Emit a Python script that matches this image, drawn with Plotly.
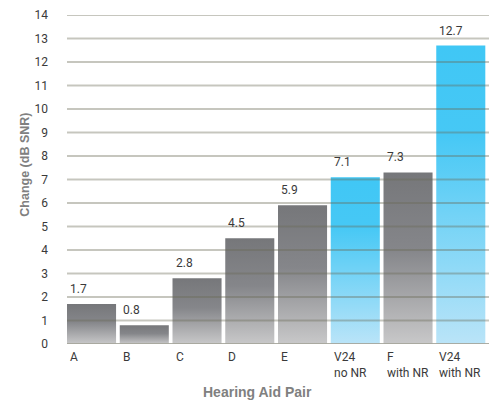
import plotly.graph_objects as go

# Speech-in-noise benefit per hearing aid pair
categories = ["A", "B", "C", "D", "E", "V24<br>no NR", "F<br>with NR", "V24<br>with NR"]
values = [1.7, 0.8, 2.8, 4.5, 5.9, 7.1, 7.3, 12.7]
is_v24 = [False, False, False, False, False, True, False, True]
y_ticks = list(range(0, 15))

GRAY_SCALE = [[0.0, "#c8c8c9"], [0.55, "#85868a"], [1.0, "#76777a"]]
BLUE_SCALE = [[0.0, "#bae4f8"], [0.7, "#46c8f5"], [1.0, "#40c7f5"]]

BAR_W = 0.93
FONT = "Roboto"
TITLE_FONT = "Liberation Sans"

fig = go.Figure()

for i, (cat, v, hl) in enumerate(zip(categories, values, is_v24)):
    left = i - 0.5
    right = left + BAR_W
    fig.add_trace(go.Scatter(
        x=[left, right, right, left, left],
        y=[0, 0, v, v, 0],
        mode="lines",
        line=dict(width=0),
        fill="toself",
        fillgradient=dict(type="vertical", colorscale=BLUE_SCALE if hl else GRAY_SCALE),
        hoverinfo="skip",
        showlegend=False,
    ))
    # value label above each bar
    fig.add_annotation(
        x=left, y=v, xref="x", yref="y", text=f"{v:.1f}",
        xanchor="left", yanchor="bottom", xshift=1, yshift=6,
        showarrow=False, font=dict(family=FONT, size=12, color="#3a3a3a"),
    )
    # category label under each bar
    fig.add_annotation(
        x=left, y=0, xref="x", yref="paper", text=cat, align="left",
        xanchor="left", yanchor="top", xshift=1, yshift=-4,
        showarrow=False, font=dict(family=FONT, size=12, color="#3a3a3a"),
    )

# gridlines drawn over the bars
for t in y_ticks:
    fig.add_shape(
        type="line", xref="paper", yref="y", x0=0, x1=1, y0=t, y1=t,
        line=dict(color="rgba(165,165,155,0.9)" if t == 0 else "rgba(105,105,85,0.38)", width=2),
        layer="above",
    )

fig.add_annotation(
    x=-0.0995, y=0.545, xref="paper", yref="paper", text="<b>Change (dB SNR)</b>",
    textangle=-90, showarrow=False, xanchor="center", yanchor="middle",
    font=dict(family=TITLE_FONT, size=12.5, color="#808080"),
)
fig.add_annotation(
    x=0.451, y=-0.145, xref="paper", yref="paper", text="<b>Hearing Aid Pair</b>",
    showarrow=False, xanchor="center", yanchor="middle",
    font=dict(family=TITLE_FONT, size=14, color="#808080"),
)

fig.update_layout(
    width=497, height=404,
    margin=dict(l=67, r=8, t=13, b=60),
    plot_bgcolor="white", paper_bgcolor="white",
    xaxis=dict(range=[-0.5, 7.5], showgrid=False, zeroline=False,
               showticklabels=False, showline=False, fixedrange=True),
    yaxis=dict(range=[0, 14], tickvals=y_ticks, showgrid=False, zeroline=False,
               showline=False, ticklabelstandoff=18,
               tickfont=dict(family=FONT, size=12, color="#3a3a3a")),
)

fig.write_html("out.html")
